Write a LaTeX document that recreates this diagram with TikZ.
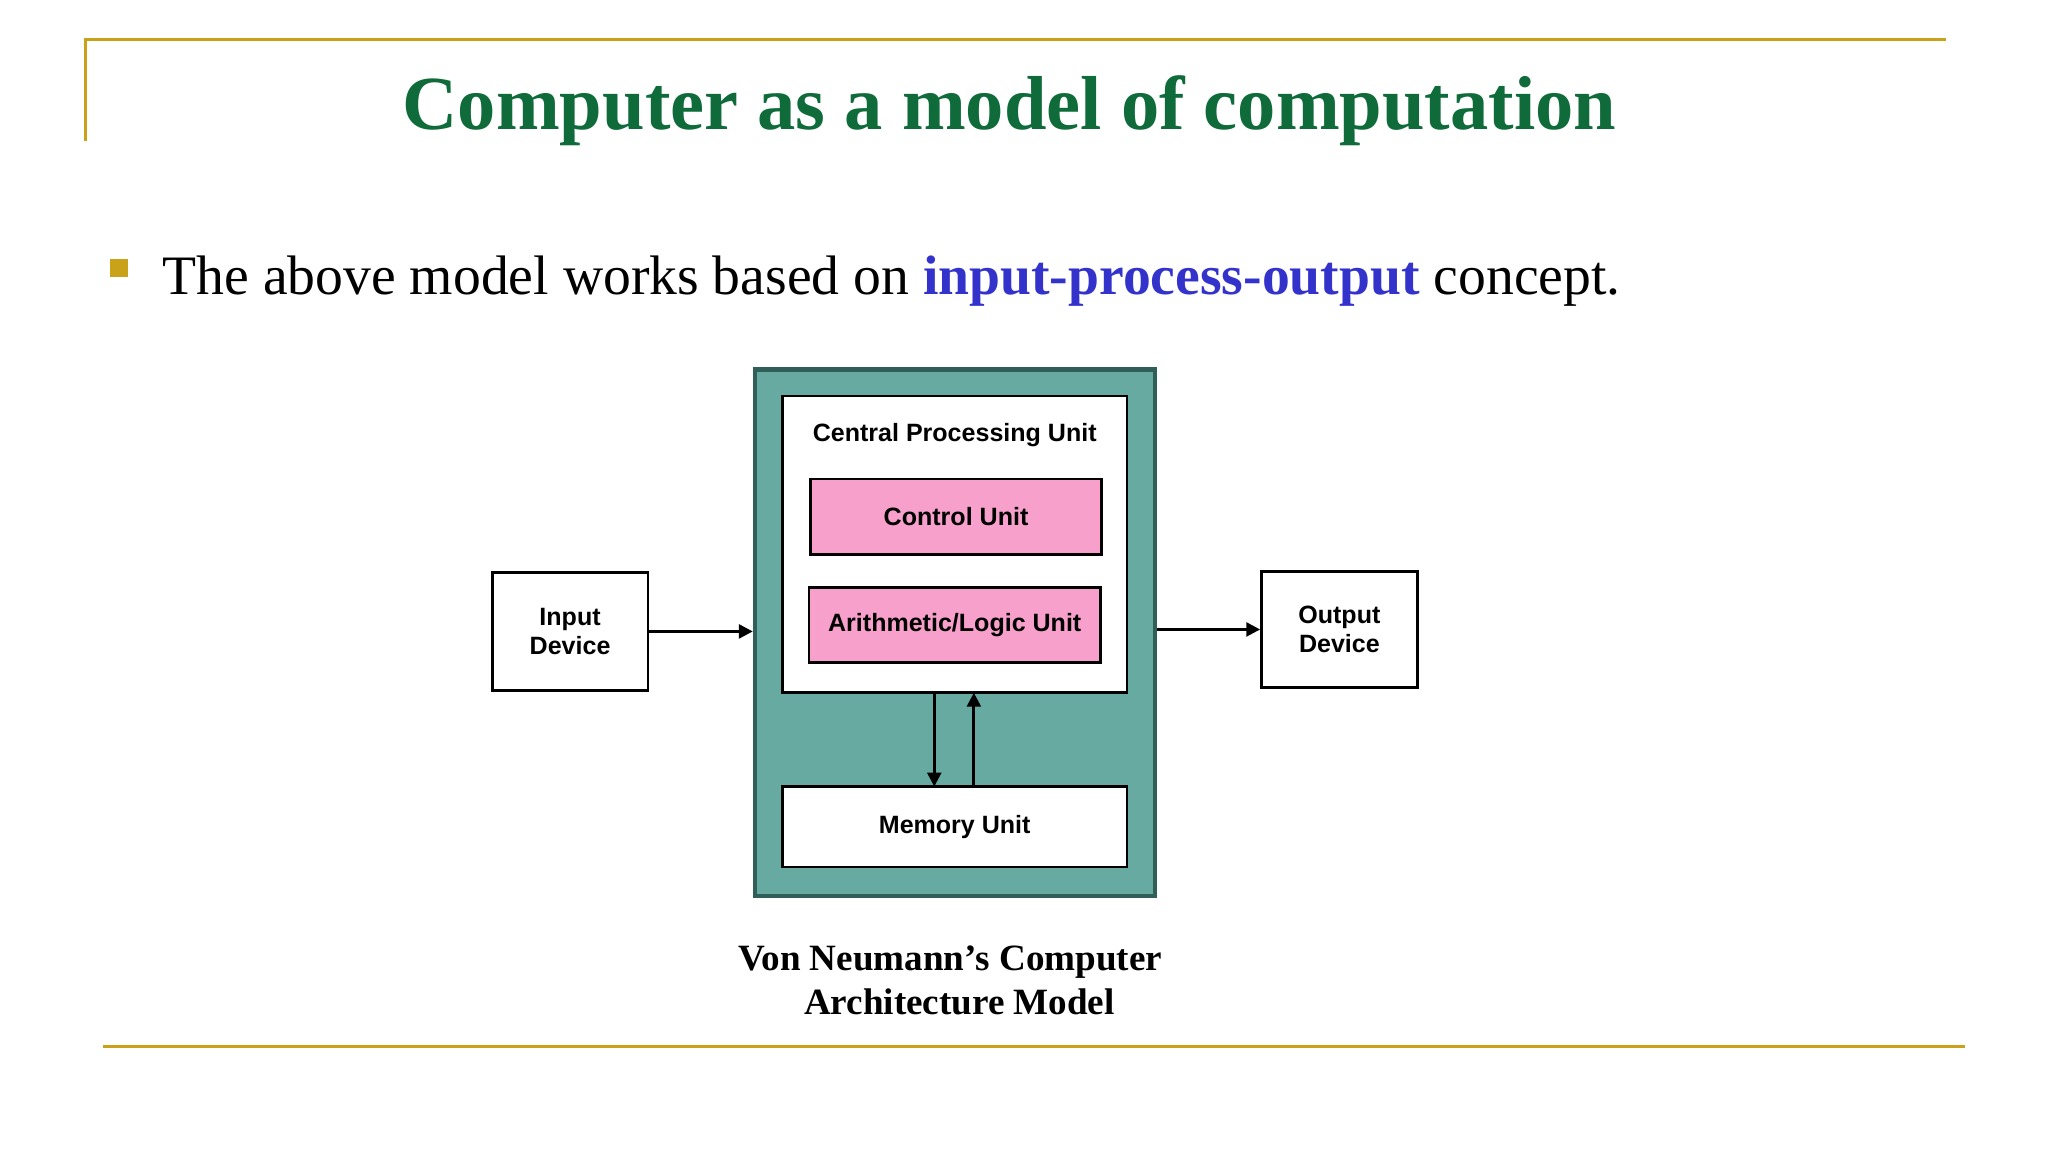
\documentclass[tikz,border=0pt]{standalone}
\usepackage{fontspec}
\setmainfont{Liberation Serif}
\newfontfamily\boxfont{Liberation Sans}
\usetikzlibrary{positioning, arrows.meta}
\definecolor{gold}{HTML}{C9A21A}
\definecolor{titlegreen}{HTML}{0F6B3A}
\definecolor{conceptblue}{HTML}{3333CC}
\definecolor{tealfill}{HTML}{66AAA2}
\definecolor{tealline}{HTML}{2F5F58}
\definecolor{unitpink}{HTML}{F7A0CB}
\tikzstyle{unit} = [draw=black, line width=1.2pt, font=\boxfont\bfseries\fontsize{10.8}{12.5}\selectfont, align=center, inner sep=0pt]
\tikzstyle{arrow} = [line width=1.2pt, -{Triangle[length=6pt,width=6pt]}]

\begin{document}
\begin{tikzpicture}[x=0.02cm, y=-0.02cm]
\useasboundingbox (0,0) rectangle (1552,873);

  % frame lines
  \draw[gold, line width=1.2pt] (65,107) -- (65,30) -- (1475,30);
  \draw[gold, line width=1.2pt] (78,793) -- (1489,793);

  \node[text=titlegreen, font=\bfseries\fontsize{33}{37}\selectfont] (title) at (765,84) {Computer as a model of computation};

  \fill[gold] (83,196) rectangle (97,210);
  \node[anchor=base west, font=\fontsize{24}{28}\selectfont, inner sep=0pt] (bullet) at (123,223)
    {The above model works based on \textcolor{conceptblue}{\textbf{input-process-output}} concept.};

  % the machine
  \node[draw=tealline, fill=tealfill, line width=1.8pt, minimum width=6.06cm, minimum height=7.98cm] (system) at (723.5,479.5) {};
  \node[unit, fill=white, minimum width=5.22cm, minimum height=4.5cm] (cpu) at (723.5,412.5) {};
  \node[unit, draw=none, anchor=center] (cpulabel) at (723.5,330) {Central Processing Unit};
  \node[unit, fill=unitpink, minimum width=4.42cm, minimum height=1.14cm] (control) at (724.5,391.5) {Control Unit};
  \node[unit, fill=unitpink, minimum width=4.42cm, minimum height=1.14cm] (alu) at (723.5,473.5) {Arithmetic/Logic Unit};
  \node[unit, fill=white, minimum width=5.22cm, minimum height=1.22cm] (memory) at (723.5,626.5) {Memory Unit};
  \node[unit, fill=white, minimum width=2.36cm, minimum height=1.78cm] (input) at (432,478.5) {Input\\Device};
  \node[unit, fill=white, minimum width=2.36cm, minimum height=1.76cm] (output) at (1015,477) {Output\\Device};

  \coordinate (downtop) at (708,525);
  \coordinate (downbot) at (708,596);
  \coordinate (uptop) at (738,525);
  \coordinate (upbot) at (738,596);
  \draw[arrow] (input.east) -- (input.east -| system.west);
  \draw[arrow] (output.west -| system.east) -- (output.west);
  \draw[arrow] (downtop) -- (downbot);
  \draw[arrow] (upbot) -- (uptop);

  \node[font=\bfseries\fontsize{16}{19}\selectfont, align=center] (caption) at (720,743)
    {Von Neumann's Computer\\\hspace*{0.5em}Architecture Model};
\end{tikzpicture}
\end{document}
